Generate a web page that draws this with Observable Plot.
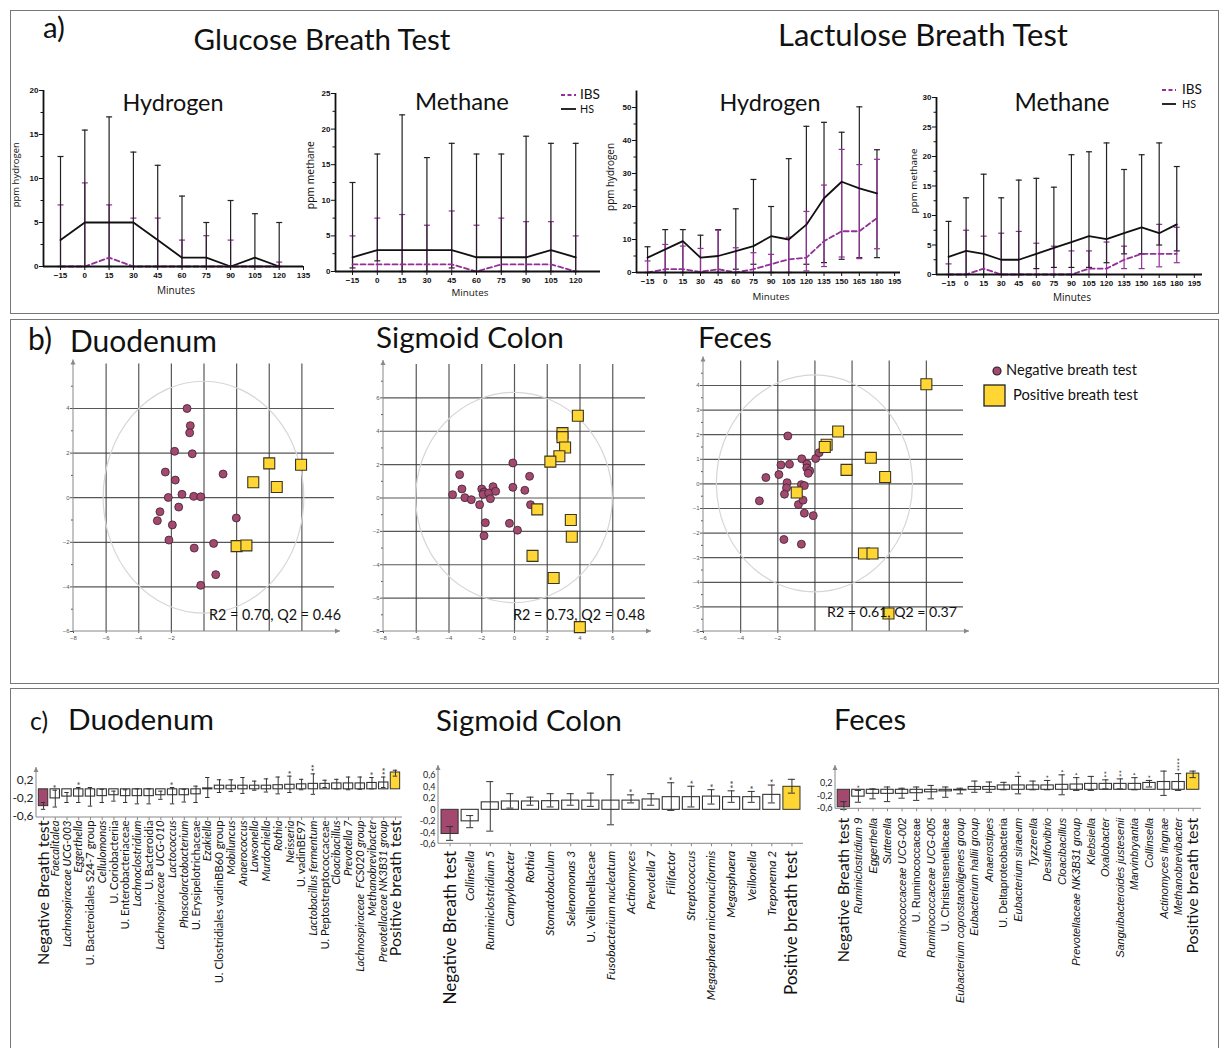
<!DOCTYPE html>
<html><head><meta charset="utf-8">
<script src="https://cdn.jsdelivr.net/npm/d3@7"></script>
<script src="https://cdn.jsdelivr.net/npm/@observablehq/plot@0.6"></script>
<style>
body{margin:0;background:#fff;}
#root{position:relative;width:1219px;height:1048px;overflow:hidden;font-family:Lato,sans-serif;background:#fff;}
.t{position:absolute;white-space:nowrap;line-height:1;}
.box{position:absolute;border:1.5px solid #777;box-sizing:border-box;}
</style></head><body><div id="root"></div><script>
// ---------------- DATA ----------------
const glucoseMinutes = [-15,0,15,30,45,60,75,90,105,120];
const lactuloseMinutes = [-15,0,15,30,45,60,75,90,105,120,135,150,165,180];

// Glucose breath test - hydrogen
const gH2_HS     = [3,5,5,5,3,1,1,0,1,0];
const gH2_HS_lo  = [0,0,0,0,0,0,0,0,0,0];
const gH2_HS_hi  = [12.5,15.5,17,13,11.5,8,5,7.5,6,5];
const gH2_IBS    = [0,0,1,0,0,0,0,0,0,0];
const gH2_IBS_lo = [0,0,0,0,0,0,0,0,0,0];
const gH2_IBS_hi = [7,9.5,7,5.5,5.5,3,3.5,3,0,0.5];
// Glucose breath test - methane
const gCH4_HS     = [2,3,3,3,3,2,2,2,3,2];
const gCH4_HS_lo  = [0.5,1.5,0,0,0.5,0,0,0,0,0];
const gCH4_HS_hi  = [12.5,16.5,22,16,18,16.5,16.5,19,18,18];
const gCH4_IBS    = [1,1,1,1,1,0,1,1,1,0];
const gCH4_IBS_lo = [0,0,0,0,0,0,0,0,0,0];
const gCH4_IBS_hi = [5,7.5,8,6.5,8.5,6.5,7.5,7,7,5];
// Lactulose breath test - hydrogen
const lH2_HS     = [4.5,7,9.5,4.5,5,6.5,8,11,10,14.5,22.5,27.5,25.5,24];
const lH2_HS_lo  = [0,0,0,0,0,1,2.5,0,0,2.5,3,4,4.5,4.5];
const lH2_HS_hi  = [7.8,13,13,11.3,13,19.3,28.2,20,34.5,44.3,45.5,42.5,50.2,37.2];
const lH2_IBS    = [0,1,1,0.2,1,0,1,2.5,4,4.5,9.5,12.5,12.5,16.5];
const lH2_IBS_lo = [0,0,0,0,0,0,0,0,0,0.5,1.8,4.7,4.2,7.2];
const lH2_IBS_hi = [3.5,8.5,8,7.3,12.8,7.5,6,5.5,10.7,18.5,26.5,37.3,32.7,34.3];
// Lactulose breath test - methane
const lCH4_HS     = [3,4,3.5,2.5,2.5,3.5,4.5,5.5,6.5,6,7,8,7,8.5];
const lCH4_HS_lo  = [0,0,0,0,0,1,1.2,1.2,1.2,2,3.5,3.5,5,4];
const lCH4_HS_hi  = [9,13,17,13,16,16.3,14.8,20.3,20.8,22.3,17.8,20.3,22.3,18.3];
const lCH4_IBS    = [0,0,1,0,0,0,0,0,1,1,2.5,3.5,3.5,3.5];
const lCH4_IBS_lo = [0,0,0,0,0,0,0,0,0,0,1,1,1.3,2];
const lCH4_IBS_hi = [1.8,7.5,6.5,7,7.3,5.3,4.8,4,4,5.5,4.8,3.5,8.5,8];

const glucoseTicks = [-15,0,15,30,45,60,75,90,105,120,135];
const glucoseTicks2 = [-15,0,15,30,45,60,75,90,105,120];
const lactuloseTicks = [-15,0,15,30,45,60,75,90,105,120,135,150,165,180,195];

// PLS-DA score plots
const duoNegX = [-1.04,-0.84,-0.88,-1.8,-0.72,-2.37,1.17,-1.76,-1.35,-2.19,-0.63,-0.2,-1.55,-2.7,-2.86,-1.94,1.98,-2.15,0.59,-0.6,0.72,-0.2];
const duoNegY = [4.0,3.23,2.91,2.08,1.97,1.15,1.06,0.79,0.15,0.01,0.06,0.04,-0.42,-0.63,-1.03,-1.22,-0.91,-1.9,-2.05,-2.26,-3.45,-3.93];
const duoPosX = [4.0,5.95,3.02,4.46,2.0,2.6];
const duoPosY = [1.54,1.48,0.69,0.48,-2.17,-2.14];
const sigNegX = [-3.78,-3.35,-3.21,-3.03,-2.64,-2.13,-2.0,-1.86,-1.92,-1.58,-1.31,-1.15,-1.47,-1.78,-1.86,-0.1,-0.1,-0.31,0.18,0.63,0.92,0.98];
const sigNegY = [0.2,1.4,0.54,0.02,-0.1,-0.4,0.54,0.36,0.22,0.3,0.68,0.4,-0.04,-1.48,-2.26,2.1,0.64,-1.52,-1.93,0.46,1.3,-0.4];
const sigPosX = [3.87,2.93,2.93,3.09,2.74,2.19,1.39,3.44,3.5,1.1,2.39,3.99];
const sigPosY = [4.93,3.89,3.65,3.03,2.5,2.18,-0.68,-1.32,-2.32,-3.47,-4.79,-7.74];
const fecNegX = [-1.46,-2.99,-2.64,-1.94,-1.83,-1.37,-1.5,-1.53,-1.64,-0.71,-0.43,-0.44,-0.28,-0.36,0.04,0.23,-0.73,-0.57,-0.89,-0.64,-0.57,-0.09,-1.67,-0.73];
const fecNegY = [1.95,-0.69,0.26,0.38,0.77,0.8,0.05,-0.16,-0.42,1.02,0.81,0.65,0.53,0.43,1.03,1.27,-0.03,-0.07,-0.84,-0.66,-1.19,-1.29,-2.26,-2.45];
const fecPosX = [6.0,1.25,0.63,0.53,1.7,3.01,3.78,-0.98,2.64,3.1,3.96];
const fecPosY = [4.05,2.13,1.59,1.5,0.57,1.06,0.28,-0.35,-2.83,-2.83,-5.27];
const ellipseRadii = {duo:[6.15,5.2], sig:[6.0,6.3], fec:[5.28,4.41]};
const modelStats = ["R2 = 0.70, Q2 = 0.46","R2 = 0.73, Q2 = 0.48","R2 = 0.61, Q2 = 0.37"];

// Coefficient bar charts
const duoNames = ["Negative Breath test","Faecalitalea","Lachnospiraceae UCG-003","Eggerthella","U. Bacteroidales S24-7 group","Cellulomonas","U. Coriobacteriia","U. Enterobacteriaceae","Lachnoclostridium","U. Bacteroidia","Lachnospiraceae  UCG-010","Lactococcus","Phascolarctobacterium","U. Erysipelotrichaceae","Ezakiella","U. Clostridiales vadinBB60 group","Mobiluncus","Anaerococcus","Lawsonella","Murdochiella","Rothia","Neisseria","U. vadinBE97","Lactobacillus fermentum","U. Peptostreptococcaceae","Cloacibacillus","Prevotella 7","Lachnospiraceae  FCS020 group","Methanobrevibacter","Prevotellaceae NK3B31 group","Positive breath test"];
const duoVal = [-0.37,-0.2,-0.16,-0.16,-0.16,-0.15,-0.13,-0.15,-0.15,-0.15,-0.13,-0.13,-0.13,-0.11,0.02,0.08,0.08,0.08,0.08,0.08,0.09,0.1,0.11,0.12,0.12,0.13,0.13,0.13,0.14,0.15,0.37];
const duoLo = [-0.44,-0.39,-0.29,-0.29,-0.37,-0.29,-0.26,-0.29,-0.32,-0.32,-0.22,-0.32,-0.28,-0.29,-0.18,-0.07,-0.05,-0.09,-0.02,-0.06,-0.1,-0.07,-0.01,-0.11,0.04,0.01,-0.01,0,0.01,0.04,0.29];
const duoHi = [-0.29,-0.02,-0.07,0.04,0.04,0,-0.04,-0.01,0.01,0.01,-0.04,0.04,0,0.07,0.26,0.21,0.21,0.26,0.18,0.23,0.27,0.29,0.22,0.34,0.2,0.22,0.27,0.27,0.26,0.27,0.42];
const duoStars = ["","*","","*","","","","","","","","*","","","","","","","","","","*","","**","","","","","*","**",""];

const sigNames = ["Negative Breath test","Collinsella","Ruminiclostridium 5","Campylobacter","Rothia","Stomatobaculum","Selenomonas 3","U. Veillonellaceae","Fusobacterium nucleatum","Actinomyces","Prevotella 7","Filifactor","Streptococcus","Megasphaera micronuciformis","Megasphaera","Veillonella","Treponema 2","Positive breath test"];
const sigVal = [-0.42,-0.2,0.13,0.145,0.145,0.15,0.16,0.16,0.16,0.16,0.18,0.22,0.22,0.23,0.22,0.22,0.26,0.4];
const sigLo = [-0.53,-0.31,-0.37,0.03,0.08,0.05,0.08,0.06,-0.26,0.12,0.08,-0.01,0.05,0.1,0.13,0.13,0.12,0.29];
const sigHi = [-0.29,-0.1,0.49,0.28,0.22,0.28,0.28,0.29,0.61,0.26,0.28,0.47,0.41,0.35,0.33,0.32,0.43,0.53];
const sigStars = ["","","","","","","","","","*","","*","*","*","**","*","*",""];

const fecNames = ["Negative Breath test","Ruminiclostridium 9","Eggerthella","Sutterella","Ruminococcaceae UCG-002","U. Ruminococcaceae","Ruminococcaceae UCG-005","U. Christensenellaceae","Eubacterium coprostanoligenes group","Eubacterium hallii group","Anaerostipes","U. Deltaproteobacteria","Eubacterium siraeum","Tyzzerella","Desulfovibrio","Cloacibacillus","Prevotellaceae NK3B31 group","Klebsiella","Oxalobacter","Sanguibacteroides justesenii","Marvinbryantia","Collinsella","Actinomyces lingnae","Methanobrevibacter","Positive breath test"];
const fecVal = [-0.56,-0.22,-0.13,-0.13,-0.13,-0.11,-0.08,-0.05,-0.02,0.09,0.09,0.14,0.14,0.14,0.14,0.16,0.17,0.19,0.19,0.19,0.19,0.22,0.25,0.25,0.52];
const fecLo = [-0.63,-0.4,-0.29,-0.38,-0.27,-0.34,-0.29,-0.24,-0.13,-0.08,-0.08,0,-0.13,0,0,-0.16,-0.02,-0.02,0.03,0.03,0,0.09,-0.18,-0.02,0.39];
const fecHi = [-0.38,-0.02,0.03,0.09,0.05,0.09,0.14,0.09,0.05,0.28,0.25,0.24,0.43,0.28,0.3,0.48,0.39,0.43,0.32,0.35,0.39,0.3,0.6,0.52,0.6];
const fecStars = ["","*","","","","","","","","","","","*","","*","*","*","","**","**","*","*","","****",""];

// ---------------- HELPERS ----------------
const NEG = "#a3496f", POS = "#ffd633", IBSC = "#932f98";
const NS = "http://www.w3.org/2000/svg";
const root = document.getElementById("root");
function place(el, L, T){ el.style.position="absolute"; el.style.left=L+"px"; el.style.top=T+"px"; root.appendChild(el); }
function addText(str, o){
  const d = document.createElement("div");
  d.className = "t"; d.textContent = str;
  d.style.fontFamily = o.font || "Lato, sans-serif";
  let size = o.size || 14;
  d.style.fontSize = size + "px";
  if (o.weight) d.style.fontWeight = o.weight;
  if (o.italic) d.style.fontStyle = "italic";
  d.style.color = o.color || "#111";
  root.appendChild(d);
  if (o.w) { const bw = d.getBoundingClientRect().width; size = size*o.w/bw; d.style.fontSize = size+"px"; }
  const r = d.getBoundingClientRect();
  d.style.left = (o.cx - r.width/2) + "px";
  d.style.top = (o.cy - r.height/2) + "px";
  if (o.rotate) d.style.transform = "rotate(-90deg)";
  return d;
}
function box(L,T,W,H){ const b=document.createElement("div"); b.className="box"; b.style.left=L+"px"; b.style.top=T+"px"; b.style.width=W+"px"; b.style.height=H+"px"; root.appendChild(b); }
const cap = { draw(ctx, size){ const r = Math.sqrt(size/Math.PI); ctx.moveTo(-r,0); ctx.lineTo(r,0); } };
const commaFmt = d => String(d).replace(".", ",");
function svgEl(tag, attrs){ const e=document.createElementNS(NS,tag); for (const k in attrs) e.setAttribute(k, attrs[k]); return e; }
const axisDecor = (opt) => (index, scales, values, d) => {
  const g = svgEl("g", {});
  const x0 = d.marginLeft, y0 = d.height - d.marginBottom;
  const yTop = d.marginTop - (opt.overTop||0), xR = d.width - d.marginRight + (opt.overRight||0);
  g.appendChild(svgEl("line",{x1:x0,y1:y0,x2:x0,y2:yTop,stroke:opt.color,"stroke-width":1}));
  g.appendChild(svgEl("line",{x1:x0,y1:y0,x2:xR,y2:y0,stroke:opt.color,"stroke-width":1}));
  g.appendChild(svgEl("path",{d:`M${x0-2.5},${yTop+5}L${x0},${yTop}L${x0+2.5},${yTop+5}Z`,fill:opt.color}));
  if (opt.arrowRight) g.appendChild(svgEl("path",{d:`M${xR-5},${y0-2.5}L${xR},${y0}L${xR-5},${y0+2.5}Z`,fill:opt.color}));
  return g;
};
const ellipseMark = ([rx, ry]) => (index, scales) => {
  const x = scales.x, y = scales.y;
  return svgEl("ellipse",{cx:x(0),cy:y(0),rx:Math.abs(x(rx)-x(0)),ry:Math.abs(y(ry)-y(0)),fill:"none",stroke:"#d6d6d6","stroke-width":1.2});
};

// ---------------- PANEL A ----------------
function breath(c){
  const [L,T,W,H] = c.box;
  const hsRows = c.times.map((t,i)=>({t, v:c.hs[i], lo:c.hsLo[i], hi:c.hsHi[i]}));
  const ibsRows = c.times.map((t,i)=>({t, v:c.ibs[i], lo:c.ibsLo[i], hi:c.ibsHi[i]}));
  const err = (rows, color) => [
    Plot.ruleX(rows, {x:"t", y1:"lo", y2:"hi", stroke:color, strokeWidth:1.2}),
    Plot.dot(rows, {x:"t", y:"hi", symbol:cap, r:3, stroke:color, fill:"none", strokeWidth:1.2}),
    Plot.dot(rows, {x:"t", y:"lo", symbol:cap, r:3, stroke:color, fill:"none", strokeWidth:1.2})
  ];
  const hsErr = err(hsRows, "#222"), ibsErr = err(ibsRows, IBSC);
  const svg = Plot.plot({
    width:W, height:H,
    marginLeft:c.px[0]-L, marginRight:L+W-c.px[1], marginTop:c.px[3]-T, marginBottom:T+H-c.px[2],
    x:{domain:c.xDomain, label:null}, y:{domain:c.yDomain, label:null},
    style:{background:"none", overflow:"visible", fontFamily:"'Liberation Sans', Arial, sans-serif", fontSize:"8px", fontWeight:"bold", color:"#111"},
    marks:[
      ...(c.ibsOnTop ? [...hsErr, ...ibsErr] : [...ibsErr, ...hsErr]),
      Plot.line(hsRows, {x:"t", y:"v", stroke:"#111", strokeWidth:1.8}),
      Plot.line(ibsRows, {x:"t", y:"v", stroke:IBSC, strokeWidth:1.8, strokeDasharray:"5,3"}),
      Plot.axisY(c.yTicks, {tickSize:4, tickPadding:1, label:null}),
      Plot.axisY(c.yMinor, {tickSize:2.5, tickFormat:()=>"", label:null}),
      Plot.axisX(c.xTicks, {tickSize:4, tickPadding:2, label:null}),
      Plot.ruleX([c.xDomain[0]], {stroke:"#111", strokeWidth:1.8}),
      Plot.ruleY([c.yDomain[0]], {stroke:"#111", strokeWidth:1.8})
    ]
  });
  place(svg, L, T);
}
breath({box:[0,60,310,250], px:[43,303,266,90], xDomain:[-25.5,135], yDomain:[0,20],
  xTicks:glucoseTicks, yTicks:[0,5,10,15,20], yMinor:[2.5,7.5,12.5,17.5], times:glucoseMinutes,
  hs:gH2_HS, hsLo:gH2_HS_lo, hsHi:gH2_HS_hi, ibs:gH2_IBS, ibsLo:gH2_IBS_lo, ibsHi:gH2_IBS_hi, ibsOnTop:false});
breath({box:[300,60,310,250], px:[335,600,271,93], xDomain:[-25.3,135], yDomain:[0,25],
  xTicks:glucoseTicks2, yTicks:[0,5,10,15,20,25], yMinor:[2.5,7.5,12.5,17.5,22.5], times:glucoseMinutes,
  hs:gCH4_HS, hsLo:gCH4_HS_lo, hsHi:gCH4_HS_hi, ibs:gCH4_IBS, ibsLo:gCH4_IBS_lo, ibsHi:gCH4_IBS_hi, ibsOnTop:false});
breath({box:[600,60,310,250], px:[636,900,272,90.5], xDomain:[-24.4,200], yDomain:[0,55],
  xTicks:lactuloseTicks, yTicks:[0,10,20,30,40,50], yMinor:[5,15,25,35,45], times:lactuloseMinutes,
  hs:lH2_HS, hsLo:lH2_HS_lo, hsHi:lH2_HS_hi, ibs:lH2_IBS, ibsLo:lH2_IBS_lo, ibsHi:lH2_IBS_hi, ibsOnTop:true});
breath({box:[900,60,319,250], px:[936,1202,274,97], xDomain:[-25.3,202], yDomain:[0,30],
  xTicks:lactuloseTicks, yTicks:[0,5,10,15,20,25,30], yMinor:[2.5,7.5,12.5,17.5,22.5,27.5], times:lactuloseMinutes,
  hs:lCH4_HS, hsLo:lCH4_HS_lo, hsHi:lCH4_HS_hi, ibs:lCH4_IBS, ibsLo:lCH4_IBS_lo, ibsHi:lCH4_IBS_hi, ibsOnTop:false});

// ---------------- PANEL B ----------------
function scatter(c){
  const [L,T,W,H] = c.box;
  const negRows = c.negX.map((x,i)=>({x, y:c.negY[i]}));
  const posRows = c.posX.map((x,i)=>({x, y:c.posY[i]}));
  const gridStyle = {stroke:"#3a3a3a", strokeOpacity:0.85, strokeWidth:1.2};
  const svg = Plot.plot({
    width:W, height:H,
    marginLeft:c.px[0]-L, marginRight:L+W-c.px[1], marginTop:c.px[3]-T, marginBottom:T+H-c.px[2],
    x:{domain:c.xDomain, label:null}, y:{domain:c.yDomain, label:null},
    style:{background:"none", overflow:"visible", fontFamily:"'Liberation Sans', Arial, sans-serif", fontSize:"6px", color:"#555"},
    marks:[
      Plot.gridX(c.vGrid, gridStyle),
      Plot.gridY(c.hGrid, gridStyle),
      ellipseMark(c.ellipse),
      Plot.axisY(c.yLabels, {tickSize:3, tickPadding:1, label:null}),
      Plot.axisY(c.yMinor, {tickSize:2, tickFormat:()=>"", label:null}),
      Plot.axisX(c.xLabels, {tickSize:2, tickPadding:2, label:null}),
      axisDecor({color:"#888", overTop:4, overRight:6, arrowRight:true}),
      Plot.dot(negRows, {x:"x", y:"y", r:4, fill:NEG, stroke:"#3b2230", strokeWidth:0.8}),
      Plot.dot(posRows, {x:"x", y:"y", symbol:"square", r:6.2, fill:POS, stroke:"#3a3520", strokeWidth:1.1})
    ]
  });
  place(svg, L, T);
}
scatter({box:[55,355,290,290], px:[73,334,631,363.4], xDomain:[-8,8], yDomain:[-6,6],
  vGrid:[-6,-4,-2,0,2,4,6], hGrid:[-4,-2,0,2,4], xLabels:[-8,-6,-4,-2], yLabels:[4,2,0,-2,-4,-6],
  yMinor:[-5,-3,-1,1,3,5], ellipse:ellipseRadii.duo, negX:duoNegX, negY:duoNegY, posX:duoPosX, posY:duoPosY});
scatter({box:[365,355,290,290], px:[383,645,631,364], xDomain:[-8,8], yDomain:[-8,8],
  vGrid:[-6,-4,-2,0,2,4,6], hGrid:[-6,-4,-2,0,2,4,6], xLabels:[-8,-6,-4,-2,0,2,4,6], yLabels:[6,4,2,0,-2,-4,-6,-8],
  yMinor:[-7,-5,-3,-1,1,3,5,7], ellipse:ellipseRadii.sig, negX:sigNegX, negY:sigNegY, posX:sigPosX, posY:sigPosY});
scatter({box:[685,350,290,295], px:[703,963,631,360.4], xDomain:[-6,8], yDomain:[-6,5],
  vGrid:[-4,-2,0,2,4,6], hGrid:[4,3,2,1,0,-1,-2,-3,-4,-5], xLabels:[-6,-4,-2], yLabels:[4,3,2,1,0,-1,-2,-3,-4,-5,-6],
  yMinor:[-5.5,-4.5,-3.5,-2.5,-1.5,-0.5,0.5,1.5,2.5,3.5,4.5], ellipse:ellipseRadii.fec, negX:fecNegX, negY:fecNegY, posX:fecPosX, posY:fecPosY});

// ---------------- PANEL C ----------------
function barChart(c){
  const [L,T,W,H] = c.box;
  const n = c.names.length;
  const rows = c.names.map((name,i)=>({n:name, v:c.vals[i], lo:c.lo[i], hi:c.hi[i], s:c.stars[i],
    k: i===0 ? "neg" : i===n-1 ? "pos" : "mid", u: name.startsWith("U. ")}));
  const mid = rows.filter(d=>d.k==="mid");
  const lab = (data, size, style, family) => Plot.text(data, {x:"n", frameAnchor:"bottom", text:"n", rotate:-90,
    textAnchor:"end", lineAnchor:"middle", dy:c.labDy, fontSize:size, fontStyle:style, fontFamily:family, fill:"#111"});
  const svg = Plot.plot({
    width:W, height:H,
    marginLeft:c.xPx[0]-L, marginRight:L+W-c.xPx[1], marginTop:c.yPx[1]-T, marginBottom:T+H-c.yPx[0],
    x:{type:"band", domain:c.names, padding:c.pad, round:false, label:null},
    y:{domain:c.yDomain, label:null},
    style:{background:"none", overflow:"visible", fontFamily:"Lato, sans-serif", fontSize:c.tickFont+"px", color:"#222"},
    marks:[
      Plot.barY(mid, {x:"n", y:"v", fill:"white", stroke:"#333", strokeWidth:1.1}),
      Plot.barY(rows.filter(d=>d.k==="neg"), {x:"n", y:"v", fill:NEG, stroke:"#333", strokeWidth:1}),
      Plot.barY(rows.filter(d=>d.k==="pos"), {x:"n", y:"v", fill:POS, stroke:"#333", strokeWidth:1}),
      Plot.ruleX(rows, {x:"n", y1:"lo", y2:"hi", stroke:"#333", strokeWidth:1}),
      Plot.tickY(rows, {x:"n", y:"lo", stroke:"#333", insetLeft:c.capInset, insetRight:c.capInset}),
      Plot.tickY(rows, {x:"n", y:"hi", stroke:"#333", insetLeft:c.capInset, insetRight:c.capInset}),
      Plot.text(rows.filter(d=>d.s), {x:"n", y:"hi", text:"s", rotate:-90, textAnchor:"start", lineAnchor:"middle", dy:-2, dx:c.starDx, fontSize:c.starSize, fill:"#222"}),
      Plot.axisY(c.yTicks, {tickSize:0, tickPadding:3, tickFormat:commaFmt, label:null}),
      Plot.axisX({tickSize:3, tickFormat:()=>"", label:null, stroke:"#888"}),
      axisDecor({color:"#888", overTop:0, overRight:0, arrowRight:false}),
      lab(mid.filter(d=>!d.u), c.labSize, "italic", c.labFamily),
      lab(mid.filter(d=>d.u), c.labSize, "normal", c.labFamily),
      lab(rows.filter(d=>d.k!=="mid"), c.bigSize, "normal", "Lato, sans-serif")
    ]
  });
  place(svg, L, T);
}
barChart({box:[0,740,415,250], xPx:[36,402], yPx:[817,767], yDomain:[-0.62,0.48], yTicks:[0.2,-0.2,-0.6],
  names:duoNames, vals:duoVal, lo:duoLo, hi:duoHi, stars:duoStars, pad:0.2, capInset:2.5,
  tickFont:12, labSize:11.3, bigSize:16, labFamily:"Lato, sans-serif", labDy:3, starSize:9, starDx:2});
barChart({box:[415,745,400,260], xPx:[438,803], yPx:[843.3,765], yDomain:[-0.59,0.77], yTicks:[0.6,0.4,0.2,0,-0.2,-0.4,-0.6],
  names:sigNames, vals:sigVal, lo:sigLo, hi:sigHi, stars:sigStars, pad:0.15, capInset:5,
  tickFont:9, labSize:12, bigSize:17, labFamily:"Lato, sans-serif", labDy:7, starSize:10, starDx:2});
barChart({box:[800,745,419,230], xPx:[835,1201], yPx:[808.3,765], yDomain:[-0.61,0.78], yTicks:[0.2,-0.2,-0.6],
  names:fecNames, vals:fecVal, lo:fecLo, hi:fecHi, stars:fecStars, pad:0.15, capInset:3,
  tickFont:9, labSize:11, bigSize:16, labFamily:"'Liberation Sans', Arial, sans-serif", labDy:9, starSize:8, starDx:2});

// ---------------- BOXES & TEXT ----------------
box(10,10,1209,304); box(10,319,1209,365); box(10,688,1209,400);
addText("a)", {cx:54, cy:27, w:22, size:22});
addText("Glucose Breath Test", {cx:322, cy:39, w:257, size:28});
addText("Lactulose Breath Test", {cx:923, cy:35, w:290, size:28});
addText("Hydrogen", {cx:173, cy:103, w:101, size:22});
addText("Methane", {cx:462, cy:101, w:94, size:22});
addText("Hydrogen", {cx:770, cy:103, w:101, size:22});
addText("Methane", {cx:1062, cy:102, w:95, size:22});
addText("ppm hydrogen", {cx:15, cy:175, w:65, size:11, font:"'Open Sans', sans-serif", rotate:true});
addText("ppm methane", {cx:310, cy:175, w:68, size:11, font:"'Open Sans', sans-serif", rotate:true});
addText("ppm hydrogen", {cx:611, cy:177, w:68, size:11, font:"'Open Sans', sans-serif", rotate:true});
addText("ppm methane", {cx:913, cy:181, w:65, size:11, font:"'Open Sans', sans-serif", rotate:true});
addText("Minutes", {cx:176, cy:290, w:38, size:10, font:"'Open Sans', sans-serif"});
addText("Minutes", {cx:470, cy:293, w:37, size:10, font:"'Open Sans', sans-serif"});
addText("Minutes", {cx:771, cy:297, w:37, size:10, font:"'Open Sans', sans-serif"});
addText("Minutes", {cx:1072, cy:297, w:38, size:10, font:"'Open Sans', sans-serif"});
// legends panel a
function legendLine(x1,x2,y,color,dash){
  const s = svgEl("svg",{width:1219,height:1048}); s.style.position="absolute"; s.style.left="0"; s.style.top="0"; s.style.pointerEvents="none";
  s.appendChild(svgEl("line",{x1,x2,y1:y,y2:y,stroke:color,"stroke-width":1.8,"stroke-dasharray":dash||"none"}));
  root.appendChild(s);
}
legendLine(561,576,95,IBSC,"4,2.5"); legendLine(561,576,109,"#111");
addText("IBS", {cx:590, cy:95, w:20, size:12});
addText("HS", {cx:587, cy:109, w:14, size:12});
legendLine(1162,1176,90,IBSC,"4,2.5"); legendLine(1162,1176,104,"#111");
addText("IBS", {cx:1192, cy:89.5, w:20, size:12});
addText("HS", {cx:1189, cy:104.5, w:14, size:12});
// panel b text
addText("b)", {cx:40, cy:338, w:24, size:22});
addText("Duodenum", {cx:143.5, cy:340, w:147, size:28});
addText("Sigmoid Colon", {cx:470, cy:337, w:188, size:28});
addText("Feces", {cx:735, cy:337, w:74, size:28});
addText(modelStats[0], {cx:275, cy:615, w:132, size:15});
addText(modelStats[1], {cx:579, cy:615, w:132, size:15});
addText(modelStats[2], {cx:892, cy:612, w:130, size:15});
{
  const s = svgEl("svg",{width:1219,height:1048}); s.style.position="absolute"; s.style.left="0"; s.style.top="0";
  s.appendChild(svgEl("circle",{cx:997,cy:371,r:4,fill:NEG,stroke:"#222","stroke-width":1.2}));
  s.appendChild(svgEl("rect",{x:984,y:385,width:21,height:21,fill:POS,stroke:"#222","stroke-width":1.3}));
  root.appendChild(s);
}
addText("Negative breath test", {cx:1071.5, cy:370, w:131, size:14});
addText("Positive breath test", {cx:1075.5, cy:394, w:125, size:14});
// panel c text
addText("c)", {cx:39, cy:721, w:18, size:20});
addText("Duodenum", {cx:141, cy:719, w:146, size:28});
addText("Sigmoid Colon", {cx:529, cy:720, w:186, size:28});
addText("Feces", {cx:870, cy:719, w:72, size:28});
</script></body></html>
